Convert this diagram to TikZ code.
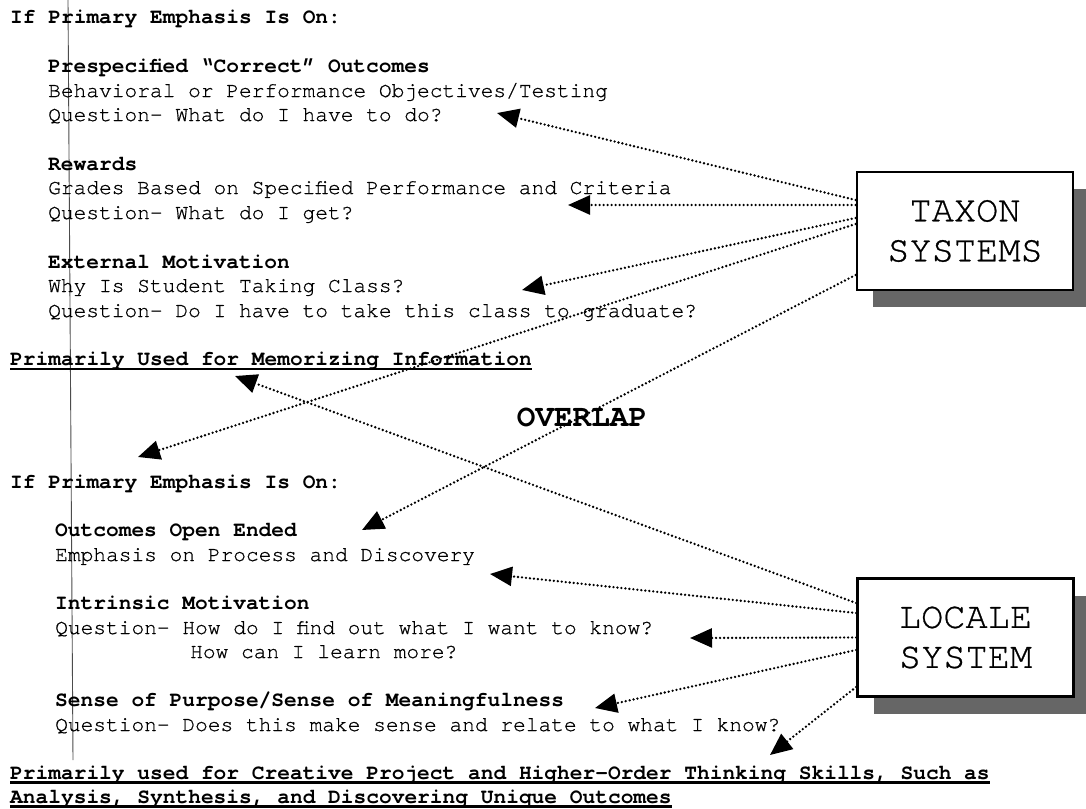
\documentclass[tikz,border=0pt]{standalone}
\usepackage{fontspec}
\setmainfont{texgyrecursor}[Extension=.otf, UprightFont=*-regular, BoldFont=*-bold, ItalicFont=*-italic, BoldItalicFont=*-bolditalic, UprightFeatures={FakeBold=0.7}]
\usetikzlibrary{arrows.meta,shadows}

\begin{document}
\begin{tikzpicture}[x=1pt, y=-1pt, font=\fontsize{21.2}{24}\selectfont]
    \tikzstyle{txt}=[anchor=base west, inner sep=0pt]
    \tikzstyle{head}=[txt, font=\fontsize{21.2}{24}\selectfont\bfseries]
    \tikzstyle{system}=[draw, line width=2.8pt, fill=white, minimum width=216pt, minimum height=118pt, align=center, font=\fontsize{37}{40}\selectfont, drop shadow={shadow xshift=16pt, shadow yshift=-17pt, fill=black!60, opacity=1}]
    \tikzstyle{link} = [line width=2.6pt, dash pattern=on 0pt off 4pt, line cap=round, -{Triangle[length=22pt, width=19pt]}]
    \tikzstyle{uline} = [line width=2.4pt]

    \fill[white] (0,0) rectangle (1086,808);
    \path[use as bounding box, clip] (0,0) rectangle (1086,808);

    % margin mark of the scan
    \draw[black!70, line width=0.9pt] (68,0) -- (73,760);

    % taxon block
    \node[head] (taxhead) at (10,24) {If Primary Emphasis Is On:};
    \node[head] (outc) at (48,73) {Prespecified “Correct” Outcomes};
    \node[txt] (behav) at (48,97) {Behavioral or Performance Objectives/Testing};
    \node[txt] (qdo) at (48,121) {Question- What do I have to do?};
    \node[head] (rew) at (48,170) {Rewards};
    \node[txt] (grades) at (48,194) {Grades Based on Specified Performance and Criteria};
    \node[txt] (qget) at (48,219) {Question- What do I get?};
    \node[head] (extm) at (48,268) {External Motivation};
    \node[txt] (why) at (48,292) {Why Is Student Taking Class?};
    \node[txt] (qgrad) at (48,317) {Question- Do I have to take this class to graduate?};
    \node[head] (memo) at (10,365) {Primarily Used for Memorizing Information};
    \draw[uline] ([yshift=-4pt]memo.base west) -- ([yshift=-4pt]memo.base east);

    \node[font=\fontsize{31}{32}\selectfont\bfseries] (overlap) at (582,417) {OVERLAP};

    % locale block
    \node[head] (lochead) at (10,488) {If Primary Emphasis Is On:};
    \node[head] (open) at (55,536) {Outcomes Open Ended};
    \node[txt] (proc) at (55,561) {Emphasis on Process and Discovery};
    \node[head] (intr) at (55,609) {Intrinsic Motivation};
    \node[txt] (qfind) at (55,634) {Question- How do I find out what I want to know?};
    \node[txt] (qmore) at (190,658) {How can I learn more?};
    \node[head] (purp) at (55,706) {Sense of Purpose/Sense of Meaningfulness};
    \node[txt] (qsense) at (55,731) {Question- Does this make sense and relate to what I know?};
    \node[head] (creat) at (10,779) {Primarily used for Creative Project and Higher-Order Thinking Skills, Such as};
    \node[head] (anal) at (10,803) {Analysis, Synthesis, and Discovering Unique Outcomes};
    \draw[uline] ([yshift=-3.5pt]creat.base west) -- ([yshift=-3.5pt]creat.base east);
    \draw[uline] ([yshift=-3.5pt]anal.base west) -- ([yshift=-3.5pt]anal.base east);

    % the two systems
    \node[system] (taxon) at (965,231) {TAXON\\SYSTEMS};
    \node[system] (locale) at (965.5,637.5) {LOCALE\\SYSTEM};

    \coordinate (tipdo) at (497,113);
    \coordinate (tipget) at (568,205);
    \coordinate (tipgrad) at (522,290);
    \coordinate (tiphead) at (138,457);
    \coordinate (tipopen) at (362,530);
    \coordinate (tipmemo) at (235,376);
    \coordinate (tipproc) at (490,574);
    \coordinate (tipfind) at (690,638);
    \coordinate (tipsense) at (595,708);
    \coordinate (tipcreat) at (770,755);

    \draw[link] ([yshift=31pt]taxon.west) -- (tipdo);
    \draw[link] ([yshift=26pt]taxon.west) -- (tipget);
    \draw[link] ([yshift=13pt]taxon.west) -- (tipgrad);
    \draw[link] ([yshift=7pt]taxon.west) -- (tiphead);
    \draw[link] ([yshift=-44pt]taxon.west) -- (tipopen);

    \draw[link] ([yshift=34.5pt]locale.west) -- (tipmemo);
    \draw[link] ([yshift=24.5pt]locale.west) -- (tipproc);
    \draw[link] (locale.west) -- (tipfind);
    \draw[link] ([yshift=-12.5pt]locale.west) -- (tipsense);
    \draw[link] ([yshift=-49.5pt]locale.west) -- (tipcreat);
\end{tikzpicture}
\end{document}
